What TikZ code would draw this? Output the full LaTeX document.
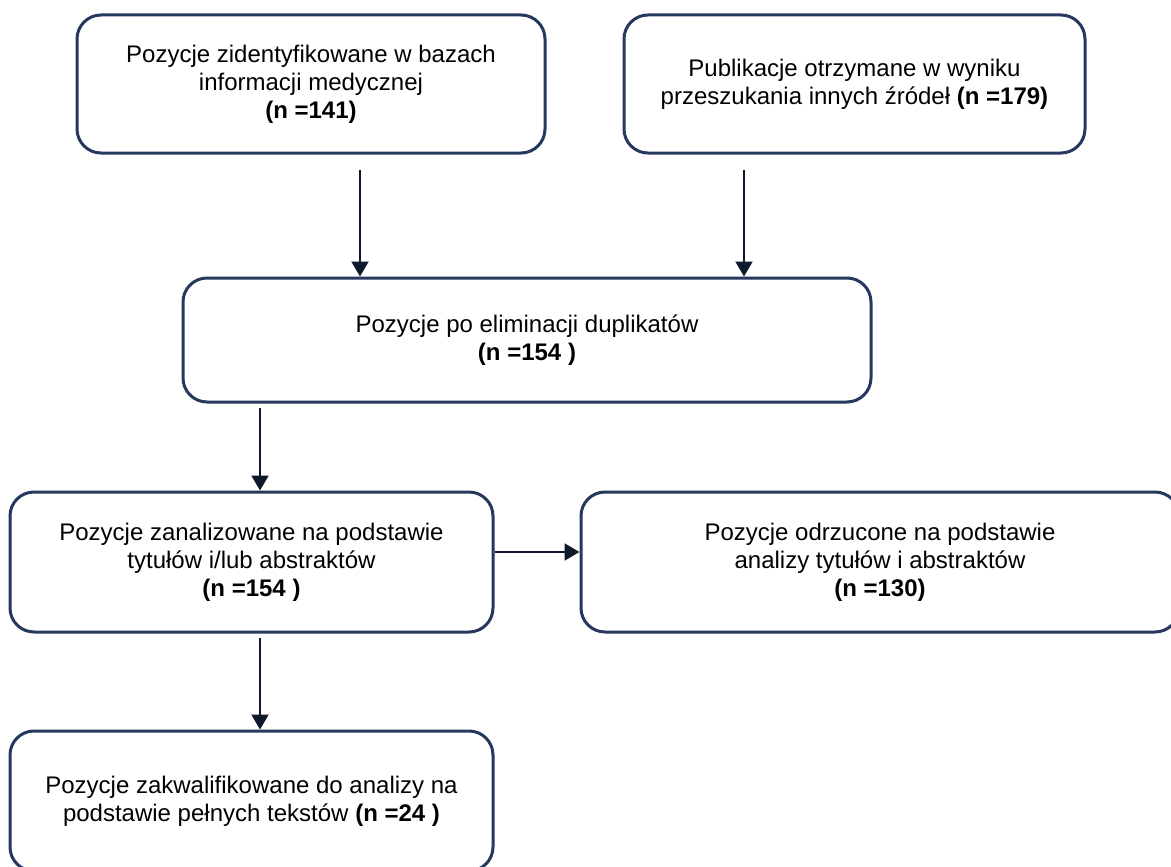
\documentclass[tikz,border=0pt]{standalone}
\usepackage{fontspec}
\setmainfont{Liberation Sans}
\usepackage{xcolor}
\usepackage{tikz}
\usetikzlibrary{arrows.meta}
\definecolor{boxline}{RGB}{38,56,94}
\definecolor{arrowline}{RGB}{15,25,45}
\tikzstyle{stagebox}=[draw=boxline,line width=3pt,rounded corners=24pt,fill=white,align=center,inner sep=0pt,font=\fontsize{24}{28}\selectfont]
\tikzstyle{flow}=[draw=arrowline,line width=2pt,-{Triangle[length=15pt,width=17pt]}]

\begin{document}
\begin{tikzpicture}[x=1pt,y=-1pt]
		\useasboundingbox (0,0) rectangle (1171,867);
		\fill[white] (0,0) rectangle (1171,867);
		% boxes
		\node[stagebox,minimum width=468pt,minimum height=138pt] (bases) at (311,84) {Pozycje zidentyfikowane w bazach\\informacji medycznej\\\textbf{(n =141)}};
		\node[stagebox,minimum width=461pt,minimum height=138pt] (other) at (854.5,84) {Publikacje otrzymane w wyniku\\przeszukania innych źródeł \textbf{(n =179)}};
		\node[stagebox,minimum width=688pt,minimum height=124pt] (dup) at (527,340) {Pozycje po eliminacji duplikatów\\\textbf{(n =154 )}};
		\node[stagebox,minimum width=483pt,minimum height=140pt] (abs) at (251.5,562) {Pozycje zanalizowane na podstawie\\tytułów i/lub abstraktów\\\textbf{(n =154 )}};
		\node[stagebox,minimum width=598pt,minimum height=140pt] (rej) at (880,562) {Pozycje odrzucone na podstawie\\analizy tytułów i abstraktów\\\textbf{(n =130)}};
		\node[stagebox,minimum width=483pt,minimum height=140pt] (full) at (251.5,801) {Pozycje zakwalifikowane do analizy na\\podstawie pełnych tekstów \textbf{(n =24 )}};
		% connectors
		\coordinate (s1) at (360,170);
		\coordinate (s2) at (744,170);
		\coordinate (s3) at (260,408);
		\coordinate (s4) at (260,638);
		\draw[flow] (s1) -- (s1 |- dup.north);
		\draw[flow] (s2) -- (s2 |- dup.north);
		\draw[flow] (s3) -- (s3 |- abs.north);
		\draw[flow] ([yshift=10pt]abs.east) -- ([yshift=10pt]rej.west);
		\draw[flow] (s4) -- (s4 |- full.north);
	\end{tikzpicture}
\end{document}
